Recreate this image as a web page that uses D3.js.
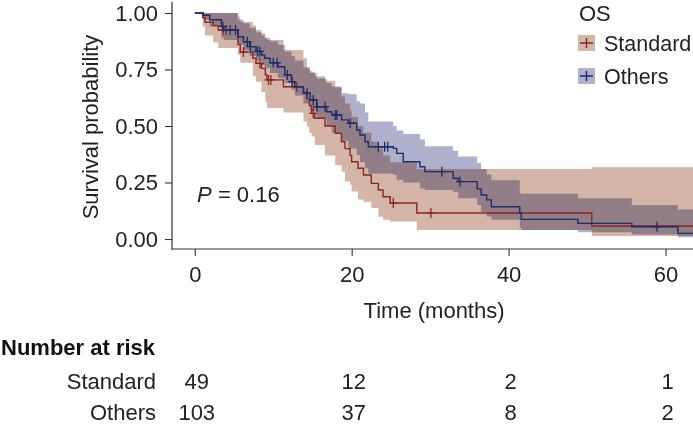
<!DOCTYPE html>
<html>
<head>
<meta charset="utf-8">
<script src="https://cdn.jsdelivr.net/npm/d3@7"></script>
<style>
  html, body { margin: 0; padding: 0; background: #fff; }
  svg { display: block; }
  text { font-family: "Liberation Sans", Arial, Helvetica, sans-serif; }
</style>
</head>
<body>
<svg id="chart" width="693" height="430"></svg>
<script>
// ---------------- data ----------------
const groups = ["Standard", "Others"];

const timesStd = [0, 1.0, 1.3, 2.35, 3.0, 5.5, 5.8, 7.4, 7.8, 8.5, 9.0, 9.2, 11.3, 13.85, 14.3, 14.6, 14.9, 15.3, 16.6, 17.9, 18.7, 19.15, 19.8, 20.0, 20.8, 21.5, 22.5, 23.4, 24.0, 24.9, 28.3, 50.6];
const survStd  = [1, 0.98, 0.959, 0.944, 0.925, 0.86, 0.827, 0.80, 0.777, 0.755, 0.726, 0.704, 0.674, 0.65, 0.62, 0.59, 0.556, 0.534, 0.50, 0.468, 0.43, 0.40, 0.37, 0.342, 0.313, 0.283, 0.246, 0.217, 0.187, 0.159, 0.115, 0.0575];
const lowerStd = [1, 0.94, 0.90, 0.87, 0.845, 0.814, 0.78, 0.72, 0.696, 0.65, 0.606, 0.58, 0.56, 0.52, 0.497, 0.47, 0.453, 0.416, 0.37, 0.327, 0.298, 0.254, 0.24, 0.21, 0.175, 0.165, 0.137, 0.099, 0.085, 0.077, 0.04, 0.013];
const upperStd = [1, 1, 1, 1, 1, 0.985, 0.96, 0.945, 0.925, 0.91, 0.89, 0.88, 0.836, 0.80, 0.755, 0.745, 0.74, 0.72, 0.70, 0.67, 0.63, 0.60, 0.57, 0.54, 0.50, 0.47, 0.43, 0.40, 0.37, 0.34, 0.31, 0.317];
const censorStd = [3.6, 4.0, 6.2, 8.3, 9.4, 9.7, 13.0, 15.1, 25.3, 30.1];
const endStd = 63.5;

const timesOth = [0, 1.1, 1.9, 3.4, 3.7, 5.5, 6.2, 7.0, 7.8, 8.5, 8.9, 9.6, 10.6, 11.48, 12.32, 12.75, 13.85, 14.7, 15.55, 16.8, 17.46, 18.73, 19.57, 20.64, 21.06, 21.7, 22.12, 25.3, 25.73, 26.57, 28.7, 29.33, 32.93, 33.57, 36.0, 36.5, 37.2, 37.8, 41.42, 41.6, 48.84, 55.7, 61.57];
const survOth  = [1, 0.99, 0.97, 0.94, 0.925, 0.895, 0.873, 0.851, 0.83, 0.814, 0.80, 0.78, 0.762, 0.726, 0.696, 0.674, 0.645, 0.615, 0.585, 0.563, 0.549, 0.527, 0.512, 0.482, 0.46, 0.43, 0.408, 0.401, 0.379, 0.342, 0.32, 0.298, 0.269, 0.254, 0.222, 0.195, 0.173, 0.143, 0.114, 0.087, 0.069, 0.054, 0.025];
const lowerOth = [1, 0.97, 0.94, 0.89, 0.88, 0.86, 0.835, 0.81, 0.79, 0.77, 0.757, 0.735, 0.712, 0.69, 0.66, 0.635, 0.60, 0.565, 0.535, 0.50, 0.47, 0.435, 0.40, 0.372, 0.34, 0.313, 0.29, 0.283, 0.262, 0.25, 0.224, 0.217, 0.209, 0.18, 0.15, 0.12, 0.10, 0.085, 0.05, 0.04, 0.03, 0.02, 0.008];
const upperOth = [1, 1, 1, 1, 1, 0.97, 0.955, 0.935, 0.915, 0.90, 0.89, 0.875, 0.86, 0.83, 0.81, 0.79, 0.76, 0.735, 0.71, 0.69, 0.675, 0.645, 0.64, 0.61, 0.60, 0.56, 0.52, 0.50, 0.48, 0.465, 0.44, 0.41, 0.39, 0.365, 0.336, 0.31, 0.285, 0.26, 0.202, 0.20, 0.18, 0.15, 0.13];
const censorOth = [3.6, 4.5, 5.2, 6.7, 7.1, 8.0, 8.3, 10.0, 10.5, 11.8, 12.4, 14.3, 15.1, 15.6, 16.6, 17.9, 18.1, 19.8, 23.4, 24.2, 24.6, 31.5, 33.8, 58.9];
const endOth = 63.5;

const xTicks = [0, 20, 40, 60];
const yTicks = [0, 0.25, 0.5, 0.75, 1.0];
const riskTimes = [0, 20, 40, 60];
const riskStd = [49, 12, 2, 1];
const riskOth = [103, 37, 8, 2];
const pText = "0.16";

// ---------------- styles ----------------
const lineCol = { Standard: "#8B2525", Others: "#1D2D68" };
const fillCol = { Standard: "#D4B6A8", Others: "#AEB0CC" };
const fontSize = 22;

// ---------------- scales ----------------
const svg = d3.select("#chart");
const x = d3.scaleLinear().domain([-2.9, 63.5]).range([172, 693]);
const y = d3.scaleLinear().domain([-0.05, 1.05]).range([250.3, 1.7]);

svg.append("defs").append("clipPath").attr("id", "clip")
  .append("rect").attr("x", 172).attr("y", 0).attr("width", 521).attr("height", 250);

function makeRows(times, surv, lo, hi, end) {
  const rows = times.map((t, i) => ({ t, s: surv[i], lo: lo[i], hi: hi[i] }));
  const last = rows[rows.length - 1];
  rows.push({ t: end, s: last.s, lo: last.lo, hi: last.hi });
  return rows;
}
const data = {
  Standard: makeRows(timesStd, survStd, lowerStd, upperStd, endStd),
  Others: makeRows(timesOth, survOth, lowerOth, upperOth, endOth)
};
const censors = { Standard: censorStd, Others: censorOth };

function survAt(rows, t) {
  let s = 1;
  for (const r of rows) { if (r.t <= t) s = r.s; else break; }
  return s;
}

const plot = svg.append("g").attr("clip-path", "url(#clip)");

const area = d3.area().curve(d3.curveStepAfter)
  .x(d => x(d.t)).y0(d => y(d.lo)).y1(d => y(d.hi));
const line = d3.line().curve(d3.curveStepAfter)
  .x(d => x(d.t)).y(d => y(d.s));

const bands = plot.append("g").style("isolation", "isolate");
groups.forEach(g => {
  bands.append("path").datum(data[g]).attr("d", area)
    .attr("fill", fillCol[g]).style("mix-blend-mode", "multiply");
});

groups.forEach(g => {
  plot.append("path").datum(data[g]).attr("d", line)
    .attr("fill", "none").attr("stroke", lineCol[g]).attr("stroke-width", 1.4);
  const cg = plot.append("g");
  censors[g].forEach(t => {
    const cx = x(t), cy = y(survAt(data[g], t));
    cg.append("line").attr("x1", cx).attr("x2", cx).attr("y1", cy - 5).attr("y2", cy + 5)
      .attr("stroke", lineCol[g]).attr("stroke-width", 1.3);
    cg.append("line").attr("x1", cx - 4).attr("x2", cx + 4).attr("y1", cy).attr("y2", cy)
      .attr("stroke", lineCol[g]).attr("stroke-width", 1.3);
  });
});

// ---------------- axes ----------------
const axisCol = "#333";
const yAxis = svg.append("g").attr("transform", "translate(172,0)")
  .call(d3.axisLeft(y).tickValues(yTicks).tickFormat(d3.format(".2f")).tickSize(7).tickPadding(7));
yAxis.select(".domain").remove();
yAxis.selectAll("line").attr("stroke", axisCol).attr("stroke-width", 1.1);
yAxis.selectAll("text").attr("font-size", fontSize).attr("fill", "#222")
  .style("font-family", "'Liberation Sans', Arial, sans-serif");

const xAxis = svg.append("g").attr("transform", "translate(0,249)")
  .call(d3.axisBottom(x).tickValues(xTicks).tickFormat(d3.format("d")).tickSize(7).tickPadding(10));
xAxis.select(".domain").remove();
xAxis.selectAll("line").attr("stroke", axisCol).attr("stroke-width", 1.1);
xAxis.selectAll("text").attr("font-size", fontSize).attr("fill", "#222")
  .style("font-family", "'Liberation Sans', Arial, sans-serif");

svg.append("line").attr("x1", 172).attr("x2", 172).attr("y1", y(1.05)).attr("y2", 249.5)
  .attr("stroke", axisCol).attr("stroke-width", 1.2);
svg.append("line").attr("x1", 171.5).attr("x2", 693).attr("y1", 249).attr("y2", 249)
  .attr("stroke", axisCol).attr("stroke-width", 1.2);

// axis titles
svg.append("text").attr("x", x(30.5)).attr("y", 318).attr("text-anchor", "middle")
  .attr("font-size", fontSize).attr("fill", "#222").text("Time (months)");
svg.append("text").attr("transform", `translate(98,${(y(0) + y(1)) / 2 + 1}) rotate(-90)`)
  .attr("text-anchor", "middle").attr("font-size", fontSize).attr("fill", "#222").text("Survival probability");

// p-value
const pt = svg.append("text").attr("x", x(0.3)).attr("y", y(0.2) + 8)
  .attr("font-size", fontSize).attr("fill", "#222");
pt.append("tspan").attr("font-style", "italic").text("P");
pt.append("tspan").text(" = " + pText);

// ---------------- legend ----------------
svg.append("text").attr("x", 579).attr("y", 21).attr("font-size", fontSize).attr("fill", "#222").text("OS");
groups.forEach((g, i) => {
  const ly = 43 + i * 33;
  svg.append("rect").attr("x", 578).attr("y", ly - 8).attr("width", 17).attr("height", 16)
    .attr("fill", fillCol[g]);
  svg.append("line").attr("x1", 580).attr("x2", 593).attr("y1", ly).attr("y2", ly)
    .attr("stroke", lineCol[g]).attr("stroke-width", 1.5);
  svg.append("line").attr("x1", 586.5).attr("x2", 586.5).attr("y1", ly - 5).attr("y2", ly + 5)
    .attr("stroke", lineCol[g]).attr("stroke-width", 1.4);
  svg.append("text").attr("x", 604).attr("y", ly + 8).attr("font-size", 21.5).attr("fill", "#222").text(g);
});

// ---------------- risk table ----------------
svg.append("text").attr("x", 1).attr("y", 355).attr("font-size", fontSize).attr("font-weight", "bold")
  .attr("fill", "#111").text("Number at risk");
const riskRows = [riskStd, riskOth];
groups.forEach((g, i) => {
  const ry = 389 + i * 30.5;
  svg.append("text").attr("x", 156).attr("y", ry).attr("text-anchor", "end")
    .attr("font-size", fontSize).attr("fill", "#222").text(g);
  riskTimes.forEach((t, j) => {
    svg.append("text").attr("x", x(t) + 2).attr("y", ry).attr("text-anchor", "middle")
      .attr("font-size", fontSize).attr("fill", "#222").text(riskRows[i][j]);
  });
});
</script>
</body>
</html>
